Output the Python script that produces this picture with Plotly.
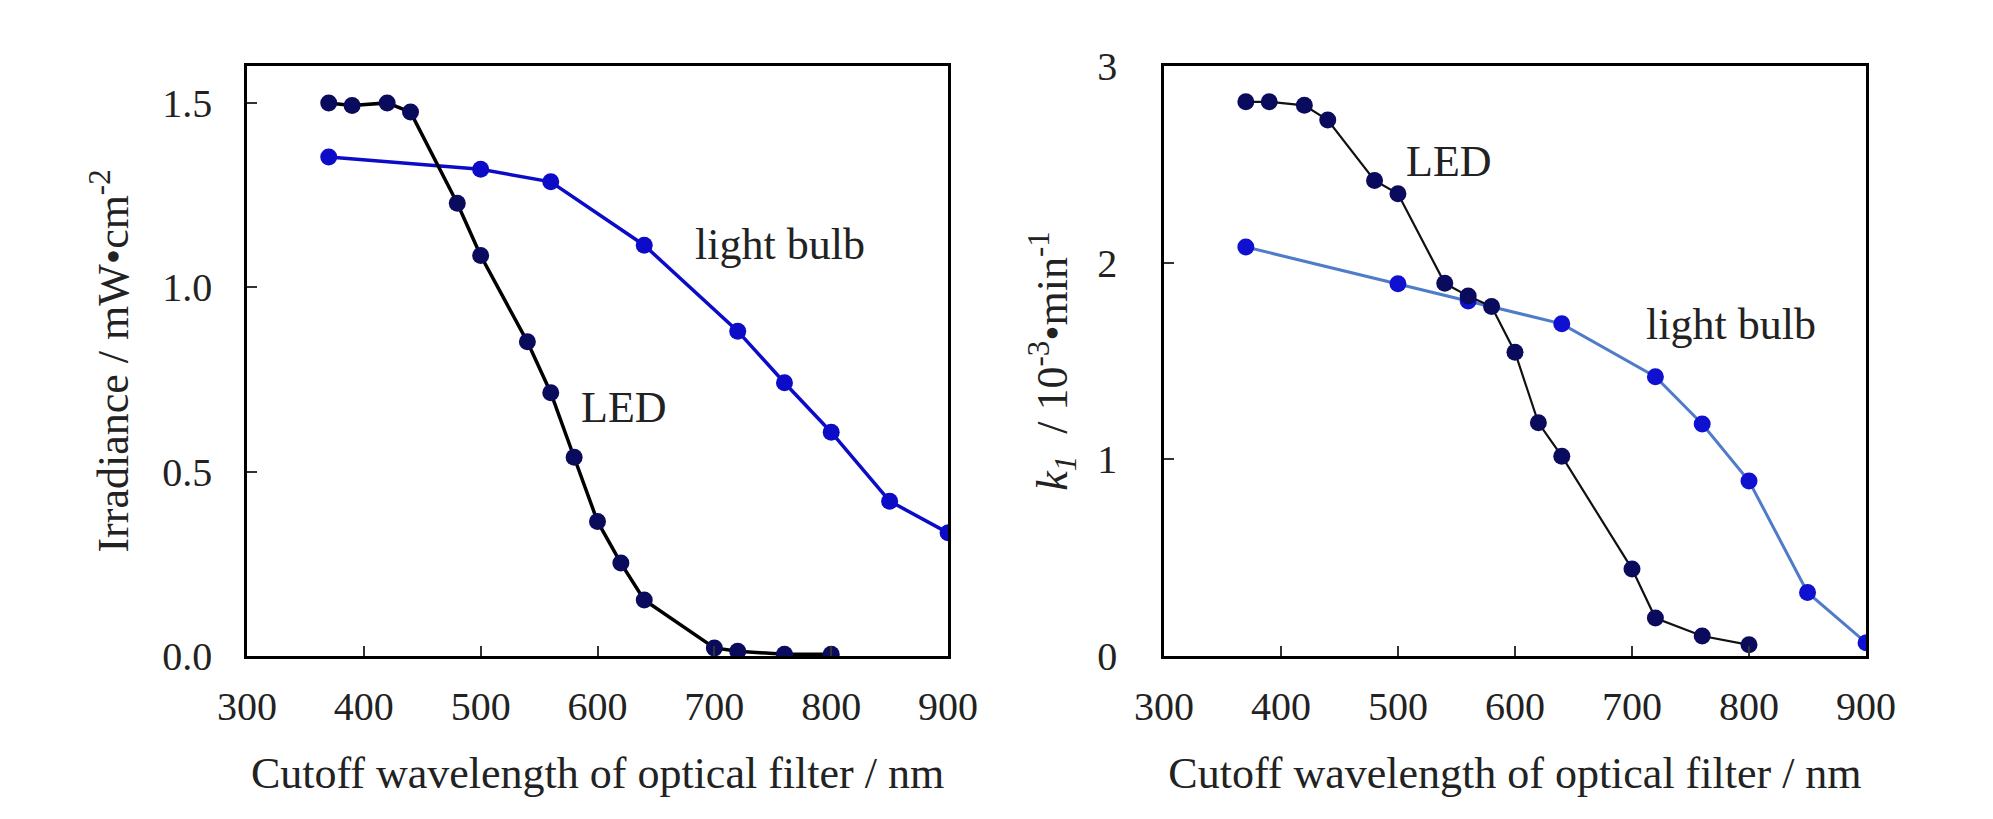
import plotly.graph_objects as go

# Left panel: irradiance
led_x = [370, 390, 420, 440, 480, 500, 540, 560, 580, 600, 620, 640, 700, 720, 760, 800]
led_irr = [1.50, 1.493, 1.50, 1.475, 1.228, 1.086, 0.852, 0.714, 0.539, 0.365, 0.252, 0.152, 0.022, 0.013, 0.005, 0.005]
bulb_x = [370, 500, 560, 640, 720, 760, 800, 850, 900]
bulb_irr = [1.353, 1.320, 1.286, 1.114, 0.881, 0.741, 0.607, 0.420, 0.334]

# Right panel: rate constant k1
led_k = [2.818, 2.818, 2.80, 2.725, 2.418, 2.35, 1.895, 1.83, 1.777, 1.545, 1.186, 1.016, 0.443, 0.193, 0.102, 0.057]
bulb_k = [2.08, 1.893, 1.805, 1.689, 1.42, 1.18, 0.89, 0.323, 0.068]

x_ticks = [300, 400, 500, 600, 700, 800, 900]
y1_ticks = [0.0, 0.5, 1.0, 1.5]
y1_labels = ["0.0", "0.5", "1.0", "1.5"]
y2_ticks = [0, 1, 2, 3]

FONT = "Liberation Serif"
TICK_FS = 40
TITLE_FS = 44
TXT = "#222222"
LED_MARK = "#0b0b5e"
BULB_BLUE = "#0c0cc8"
BULB_LINE2 = "#4f7cc8"
MS = 17

fig = go.Figure()
fig.add_trace(go.Scatter(x=bulb_x, y=bulb_irr, mode="lines+markers",
                         line=dict(color=BULB_BLUE, width=3.5),
                         marker=dict(color=BULB_BLUE, size=MS),
                         xaxis="x", yaxis="y", showlegend=False))
fig.add_trace(go.Scatter(x=led_x, y=led_irr, mode="lines+markers",
                         line=dict(color="#000000", width=3.5),
                         marker=dict(color=LED_MARK, size=MS),
                         xaxis="x", yaxis="y", showlegend=False))
fig.add_trace(go.Scatter(x=bulb_x, y=bulb_k, mode="lines+markers",
                         line=dict(color=BULB_LINE2, width=3),
                         marker=dict(color="#1010d0", size=MS),
                         xaxis="x2", yaxis="y2", showlegend=False))
fig.add_trace(go.Scatter(x=led_x, y=led_k, mode="lines+markers",
                         line=dict(color="#111111", width=2.2),
                         marker=dict(color=LED_MARK, size=MS),
                         xaxis="x2", yaxis="y2", showlegend=False))

common_x = dict(range=[300, 900], tickvals=x_ticks, ticks="inside", ticklen=10,
                tickwidth=1.5, tickcolor="#333", showline=True, linecolor="black",
                linewidth=2.5, mirror=True, showgrid=False, zeroline=False,
                automargin=False, ticklabelstandoff=13,
                tickfont=dict(family=FONT, size=TICK_FS, color=TXT),
                title=dict(text="Cutoff wavelength of optical filter / nm",
                           font=dict(family=FONT, size=TITLE_FS, color=TXT), standoff=30))
common_y = dict(ticks="inside", ticklen=10, tickwidth=1.5, tickcolor="#333",
                showline=True, linecolor="black", linewidth=2.5, mirror=True,
                showgrid=False, zeroline=False, automargin=False,
                tickfont=dict(family=FONT, size=TICK_FS, color=TXT))

fig.update_layout(
    width=1993, height=819,
    margin=dict(l=0, r=0, t=0, b=0),
    paper_bgcolor="white", plot_bgcolor="white",
    xaxis=dict(domain=[0.1239, 0.4757], anchor="y", **common_x),
    xaxis2=dict(domain=[0.584, 0.9363], anchor="y2", **common_x),
    yaxis=dict(domain=[0.199, 0.9194], anchor="x", range=[0, 1.6],
               tickvals=y1_ticks, ticktext=y1_labels, ticklabelstandoff=24,
               title=dict(text="Irradiance / mW•cm<sup>-2</sup>",
                          font=dict(family=FONT, size=TITLE_FS, color=TXT), standoff=20),
               **common_y),
    yaxis2=dict(domain=[0.199, 0.9194], anchor="x2", range=[0, 3],
                tickvals=y2_ticks, ticklabelstandoff=36,
                title=dict(text="<i>k<sub>1</sub></i>  / 10<sup>-3</sup>•min<sup>-1</sup>",
                           font=dict(family=FONT, size=TITLE_FS, color=TXT), standoff=16),
                **common_y),
    annotations=[
        dict(x=756, y=1.115, xref="x", yref="y", text="light bulb", showarrow=False,
             font=dict(family=FONT, size=TITLE_FS, color=TXT)),
        dict(x=623, y=0.675, xref="x", yref="y", text="LED", showarrow=False,
             font=dict(family=FONT, size=TITLE_FS, color=TXT)),
        dict(x=544, y=2.517, xref="x2", yref="y2", text="LED", showarrow=False,
             font=dict(family=FONT, size=TITLE_FS, color=TXT)),
        dict(x=785, y=1.688, xref="x2", yref="y2", text="light bulb", showarrow=False,
             font=dict(family=FONT, size=TITLE_FS, color=TXT)),
    ],
)

fig.write_html("out.html")
